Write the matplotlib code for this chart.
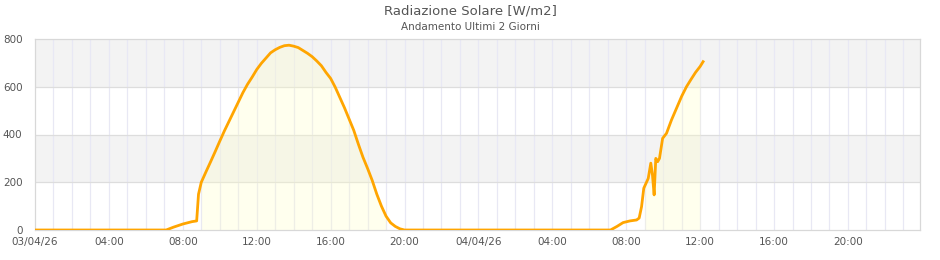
import numpy as np
import matplotlib
matplotlib.use("Agg")
import matplotlib.pyplot as plt

# hours since 03/04/26 00:00
hours = [0, 7.1, 7.5, 8.0, 8.5, 8.75, 8.85, 9.0, 9.25, 9.5, 9.75, 10.0, 10.25, 10.5,
         10.75, 11.0, 11.25, 11.5, 11.75, 12.0, 12.25, 12.5, 12.75, 13.0, 13.25, 13.5,
         13.75, 14.0, 14.25, 14.5, 14.75, 15.0, 15.25, 15.5, 15.75, 16.0, 16.25, 16.5,
         16.75, 17.0, 17.25, 17.5, 17.75, 18.0, 18.25, 18.5, 18.75, 19.0, 19.25, 19.5,
         19.75, 20.0,
         31.15, 31.5, 31.83, 32.2, 32.56, 32.7, 32.83, 32.95, 33.19, 33.33, 33.42, 33.51,
         33.6, 33.7, 33.8, 33.97, 34.18, 34.45, 34.75, 35.0, 35.26, 35.5, 35.75, 36.0, 36.16]
radiation = [0, 0, 12, 25, 35, 38, 150, 200, 243, 285, 328, 372, 415, 455,
             495, 535, 575, 610, 640, 672, 698, 720, 742, 755, 765, 772,
             774, 770, 764, 752, 740, 726, 708, 688, 660, 635, 598, 555,
             512, 465, 418, 360, 305, 258, 208, 150, 100, 58, 30, 15,
             5, 0,
             0, 15, 31, 38, 42, 50, 98, 175, 216, 280, 230, 147,
             300, 286, 300, 384, 405, 461, 515, 560, 600, 630, 660, 685, 705]

# hourly averages (area)
area_h1 = [9, 10, 11, 12, 13, 14, 15, 16, 17, 18, 19]
area_v1 = [200, 372, 535, 672, 755, 770, 726, 635, 465, 258, 58]
area_h2 = [33, 34, 35, 36]
area_v2 = [190, 385, 560, 685]

tick_pos = [0, 4, 8, 12, 16, 20, 24, 28, 32, 36, 40, 44]
tick_lab = ["03/04/26", "04:00", "08:00", "12:00", "16:00", "20:00",
            "04/04/26", "04:00", "08:00", "12:00", "16:00", "20:00"]
y_ticks = [0, 200, 400, 600, 800]

fig = plt.figure(figsize=(9.4, 2.6), dpi=100)
ax = fig.add_axes([35/940, 1-230/260, 885/940, 191/260])

# alternating bands
for lo in (200, 600):
    ax.axhspan(lo, lo + 200, color="#f3f3f3", zorder=0, lw=0)
for h in range(1, 48):
    ax.axvline(h, color="#e8e8f4", lw=0.9, zorder=0.5)
for y in (200, 400, 600):
    ax.axhline(y, color="#dddddd", lw=0.9, zorder=0.6)

ax.fill_between(area_h1, area_v1, 0, color="#ffffc8", alpha=0.3, lw=0, zorder=1)
ax.fill_between(area_h2, area_v2, 0, color="#ffffc8", alpha=0.3, lw=0, zorder=1)

for s in ax.spines.values():
    s.set_color("#d8d8d8")
    s.set_linewidth(0.9)

ax.plot(hours, radiation, color="#ffa500", lw=2.0, zorder=3, solid_joinstyle="round")

ax.set_xlim(0, 47.9)
ax.set_ylim(0, 800)
ax.set_xticks(tick_pos)
ax.set_xticklabels(tick_lab)
ax.set_yticks(y_ticks)
ax.tick_params(length=0, labelsize=7.5, labelcolor="#555555", pad=5)
ax.tick_params(axis="y", pad=9)

fig.text(0.5, 1-11/260, "Radiazione Solare [W/m2]", ha="center", va="center",
         fontsize=9.5, color="#555555")
fig.text(0.5, 1-27/260, "Andamento Ultimi 2 Giorni", ha="center", va="center",
         fontsize=7.5, color="#555555")

fig.savefig("out.png", dpi=100)
